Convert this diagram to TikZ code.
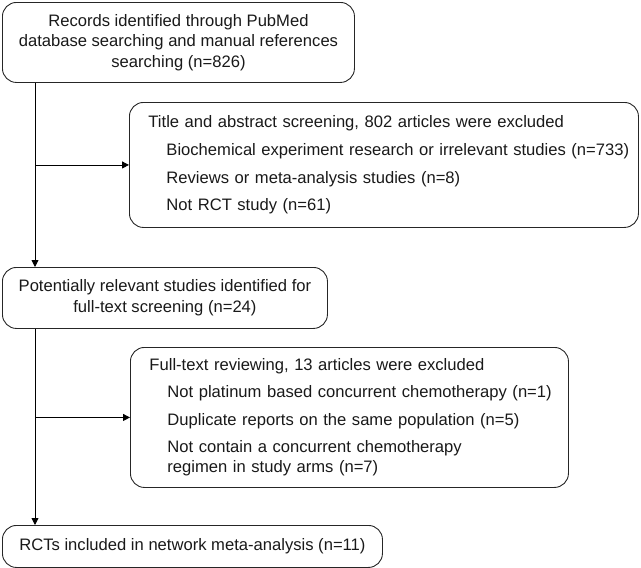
\documentclass[tikz,border=0pt]{standalone}
\usepackage{fontspec}
\setmainfont{Liberation Sans}
\usetikzlibrary{arrows.meta,positioning}
\newcommand{\exclitem}[1]{\hspace*{18pt}\mbox{#1}}

\begin{document}
\begin{tikzpicture}[
  x=1pt, y=1pt,
  flow/.style={draw=black!85, line width=0.9pt, rounded corners=14pt, align=center, inner sep=0pt,
    font=\fontsize{16.6}{20.5}\selectfont, text=black!90, anchor=north west},
  excl/.style={flow, align=left, inner xsep=19pt},
  arrow/.style={-{Triangle[length=7pt, width=7pt]}, line width=0.9pt}
]
\useasboundingbox (0,0) rectangle (641,-568);
\node[flow, minimum width=352pt, minimum height=80pt] (records) at (2,-2) {Records identified through PubMed\\database searching and manual references\\searching (n=826)};
\node[excl, minimum height=125pt, text width=471pt] (screen) at (129,-102) {\mbox{Title and abstract screening, 802 articles were excluded}\\[7.1pt]
  \exclitem{Biochemical experiment research or irrelevant studies (n=733)}\\[7.1pt]
  \exclitem{Reviews or meta-analysis studies (n=8)}\\[7.1pt]
  \exclitem{Not RCT study (n=61)}};
\node[flow, minimum width=325pt, minimum height=61pt] (eligible) at (2,-267) {Potentially relevant studies identified for\\full-text screening (n=24)};
\node[excl, minimum height=140pt, text width=400pt] (fulltext) at (130,-347) {\mbox{Full-text reviewing, 13 articles were excluded}\\[6.6pt]
  \exclitem{Not platinum based concurrent chemotherapy (n=1)}\\[6.6pt]
  \exclitem{Duplicate reports on the same population (n=5)}\\[6.6pt]
  \exclitem{Not contain a concurrent chemotherapy}\\
  \exclitem{regimen in study arms (n=7)}};
\node[flow, minimum width=380pt, minimum height=42pt] (included) at (2,-525) {RCTs included in network meta-analysis (n=11)};

\coordinate (spine) at (35,0);
\draw[arrow] (records.south -| spine) -- (eligible.north -| spine);
\draw[arrow] (eligible.south -| spine) -- (included.north -| spine);
\draw[arrow] (spine |- screen.west) -- (screen.west);
\draw[arrow] (spine |- fulltext.west) -- (fulltext.west);
\end{tikzpicture}
\end{document}
